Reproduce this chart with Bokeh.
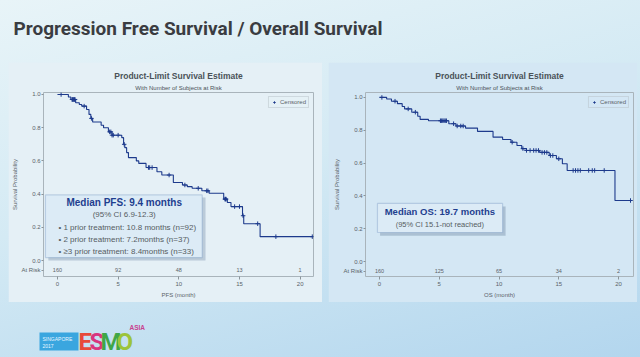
import numpy as np
from bokeh.plotting import figure
from bokeh.models import (Range1d, FixedTicker, Title, Label, BoxAnnotation, Legend,
                          LegendItem, PrintfTickFormatter, Spacer)
from bokeh.layouts import column, row
from bokeh.embed import file_html
from bokeh.resources import INLINE
from bokeh.core.properties import value

SLIDE_TITLE = "Progression Free Survival / Overall Survival"
PANEL_TITLE = "Product-Limit Survival Estimate"
PANEL_SUBTITLE = "With Number of Subjects at Risk"

# ---- PFS Kaplan-Meier (time in months, survival after step) ----
pfs_times = [0, 0.9, 1.1, 1.5, 1.8, 2.0, 2.4, 2.6, 2.75, 2.9, 3.6, 3.8, 4.2, 4.5, 5.3, 5.45,
             5.55, 5.7, 5.85, 6.5, 6.7, 7.3, 8.2, 8.6, 9.55, 10.3, 10.7, 11.1, 11.9, 12.5,
             13.7, 14.0, 14.3, 15.25, 15.35, 16.7, 21.0]
pfs_surv = [1.0, 0.985, 0.97, 0.95, 0.94, 0.93, 0.91, 0.88, 0.856, 0.834, 0.815, 0.80, 0.775,
            0.755, 0.74, 0.70, 0.68, 0.65, 0.62, 0.60, 0.585, 0.56, 0.535, 0.515, 0.47, 0.455,
            0.445, 0.435, 0.42, 0.405, 0.37, 0.35, 0.325, 0.27, 0.222, 0.144, 0.144]
pfs_censor = [0.3, 1.2, 1.25, 1.3, 1.35, 1.4, 1.45, 2.2, 2.8, 4.3, 4.4, 4.5, 4.6, 5.0, 5.5,
              7.5, 7.6, 7.8, 9.2, 10.5, 11.6, 12.3, 12.4, 13.8, 13.85, 13.9, 14.6, 15.0,
              15.3, 16.5, 18.0, 21.0]
pfs_risk_times = [0, 5, 10, 15, 20]
pfs_at_risk = ["160", "92", "48", "13", "1"]

# ---- OS Kaplan-Meier ----
os_times = [0, 0.6, 1.0, 1.5, 1.9, 2.1, 2.7, 3.2, 3.4, 4.1, 5.8, 6.4, 7.2, 8.2, 9.5, 10.3,
            11.0, 11.5, 11.9, 12.3, 13.4, 14.2, 14.8, 15.3, 15.7, 19.7, 21.0]
os_surv = [1.0, 0.99, 0.977, 0.962, 0.945, 0.93, 0.91, 0.885, 0.866, 0.858, 0.84, 0.826,
           0.813, 0.793, 0.758, 0.744, 0.727, 0.707, 0.688, 0.677, 0.665, 0.646, 0.626,
           0.596, 0.555, 0.372, 0.372]
os_censor = [0.2, 1.3, 2.4, 3.0, 5.1, 5.2, 5.3, 5.4, 5.5, 5.6, 6.2, 6.5, 6.8, 7.0, 11.1,
             12.0, 12.3, 12.6, 12.9, 13.1, 13.3, 13.6, 13.8, 14.0, 14.3, 14.5, 15.0, 16.2,
             16.4, 16.6, 16.8, 17.5, 17.8, 18.0, 18.8, 21.0]
os_risk_times = [0, 5, 10, 15, 20]
os_at_risk = ["160", "125", "65", "34", "2"]

x_ticks = [0, 5, 10, 15, 20]
y_ticks = [0.0, 0.2, 0.4, 0.6, 0.8, 1.0]
RISK_ROW = -0.058

pfs_box_lines = ["Median PFS: 9.4 months", "(95% CI 6.9-12.3)",
                 "\u2022 1 prior treatment: 10.8 months (n=92)",
                 "\u2022 2 prior treatment: 7.2months (n=37)",
                 "\u2022 \u22653 prior treatment: 8.4months (n=33)"]
os_box_lines = ["Median OS: 19.7 months", "(95% CI 15.1-not reached)"]

FONT = "Liberation Sans"
CURVE = "#1d3a8c"
TXT = "#5a6268"


def km_panel(width, height, borders, xr, yr, times, surv, censor, risk_t, risk_n,
             xlabel, panel_color):
    p = figure(width=width, height=height, output_backend="svg", toolbar_location=None,
               x_range=Range1d(*xr), y_range=Range1d(*yr),
               min_border_left=borders[0], min_border_right=borders[1],
               min_border_top=borders[2], min_border_bottom=borders[3])
    p.border_fill_color = panel_color
    p.background_fill_color = panel_color
    p.outline_line_color = "#a9b4bb"
    p.grid.visible = False
    for ax in (p.xaxis[0], p.yaxis[0]):
        ax.axis_line_color = None
        ax.major_tick_line_color = "#8a949a"
        ax.major_tick_out = 3
        ax.major_tick_in = 0
        ax.minor_tick_line_color = None
        ax.major_label_text_font = FONT
        ax.major_label_text_font_size = "6px"
        ax.major_label_text_color = TXT
        ax.axis_label_text_font = FONT
        ax.axis_label_text_font_size = "6px"
        ax.axis_label_text_font_style = "normal"
        ax.axis_label_text_color = TXT
        ax.major_label_standoff = 2
        ax.axis_label_standoff = 3
    p.xaxis.ticker = FixedTicker(ticks=x_ticks)
    p.yaxis.ticker = FixedTicker(ticks=[RISK_ROW] + y_ticks)
    p.yaxis.formatter = PrintfTickFormatter(format="%.1f")
    p.yaxis.major_label_overrides = {RISK_ROW: "At Risk"}
    p.yaxis.major_label_standoff = 1
    p.yaxis.major_tick_out = 2
    p.xaxis.axis_label = xlabel
    p.yaxis.axis_label = "Survival Probability"
    p.yaxis.axis_label_standoff = 0

    p.add_layout(Title(text=PANEL_SUBTITLE, align="center", text_font=FONT,
                       text_font_size="6px", text_font_style="normal",
                       text_color="#4a5258", standoff=3), "above")
    p.add_layout(Title(text=PANEL_TITLE, align="center", text_font=FONT,
                       text_font_size="8.5px", text_font_style="bold",
                       text_color="#4a5258", standoff=1), "above")

    p.step(times, surv, mode="after", line_color=CURVE, line_width=1.1)
    t = np.asarray(times)
    s = np.asarray(surv)
    c = np.asarray(censor)
    idx = np.searchsorted(t, c, side="right") - 1
    cr = p.scatter(c, s[idx], marker="cross", size=4.5, line_color=CURVE, line_width=1)

    leg = Legend(items=[LegendItem(label="Censored", renderers=[cr])], location="top_right",
                 label_text_font=FONT, label_text_font_size="6px", label_text_color=TXT,
                 glyph_width=6, glyph_height=6, label_height=6, padding=2, spacing=0,
                 margin=4, border_line_color="#b8c2c8", background_fill_color=panel_color,
                 label_standoff=3)
    p.add_layout(leg)

    risk_y = [RISK_ROW] * len(risk_t)
    p.text(risk_t, risk_y, text=risk_n, text_font=value(FONT), text_font_size="5.5px",
           text_color=TXT, text_align="center", text_baseline="middle")
    return p


left = km_panel(314, 240, (35, 9, 30, 25), (-1.15, 21.1), (-0.096, 1.012),
                pfs_times, pfs_surv, pfs_censor, pfs_risk_times, pfs_at_risk,
                "PFS (month)", "#e5f0f6")
right = km_panel(309, 240, (37, 4, 30, 26), (-1.17, 21.25), (-0.091, 1.03),
                 os_times, os_surv, os_censor, os_risk_times, os_at_risk,
                 "OS (month)", "#d4e7f4")

# annotation boxes
BOX_FILL = "#dcebf6"
BOX_LINE = "#5f86b6"
TITLE_BLUE = "#1f3f8f"

left.add_layout(BoxAnnotation(left=-0.75, right=12.2, top=0.38, bottom=0.0,
                              fill_color="#9fb3c6", fill_alpha=0.6, line_color=None))
left.add_layout(BoxAnnotation(left=-0.99, right=11.93, top=0.395, bottom=0.018,
                              fill_color=BOX_FILL, fill_alpha=1, line_color=BOX_LINE,
                              line_width=1.2))
ly = [0.347, 0.275, 0.198, 0.126, 0.054]
left.add_layout(Label(x=5.5, y=ly[0], text=pfs_box_lines[0], text_font=FONT,
                      text_font_size="10px", text_font_style="bold", text_color=TITLE_BLUE,
                      text_align="center", text_baseline="middle"))
left.add_layout(Label(x=5.5, y=ly[1], text=pfs_box_lines[1], text_font=FONT,
                      text_font_size="8px", text_color="#555c62",
                      text_align="center", text_baseline="middle"))
for k in range(3):
    left.add_layout(Label(x=0.08, y=ly[2 + k], text=pfs_box_lines[2 + k], text_font=FONT,
                          text_font_size="8px", text_color="#555c62",
                          text_align="left", text_baseline="middle"))

right.add_layout(BoxAnnotation(left=0.05, right=10.55, top=0.335, bottom=0.157,
                               fill_color="#8fa6bc", fill_alpha=0.6, line_color=None))
right.add_layout(BoxAnnotation(left=-0.17, right=10.3, top=0.354, bottom=0.177,
                               fill_color=BOX_FILL, fill_alpha=1, line_color=BOX_LINE,
                               line_width=1.2))
right.add_layout(Label(x=5.05, y=0.305, text=os_box_lines[0], text_font=FONT,
                       text_font_size="9.5px", text_font_style="bold", text_color=TITLE_BLUE,
                       text_align="center", text_baseline="middle"))
right.add_layout(Label(x=5.05, y=0.226, text=os_box_lines[1], text_font=FONT,
                       text_font_size="7.5px", text_color="#555c62",
                       text_align="center", text_baseline="middle"))

# slide title
top = figure(width=640, height=62, output_backend="svg", toolbar_location=None,
             x_range=Range1d(0, 640), y_range=Range1d(62, 0), min_border=0)
top.axis.visible = False
top.grid.visible = False
top.outline_line_color = None
top.background_fill_alpha = 0
top.border_fill_alpha = 0
top.text([13], [28], text=[SLIDE_TITLE], text_font=value("Roboto"),
         text_font_size="19px", text_font_style="bold", text_color="#3a3c41",
         text_baseline="middle")

# footer with logo
foot = figure(width=640, height=55, output_backend="svg", toolbar_location=None,
              x_range=Range1d(0, 640), y_range=Range1d(55, 0), min_border=0)
foot.axis.visible = False
foot.grid.visible = False
foot.outline_line_color = None
foot.background_fill_alpha = 0
foot.border_fill_alpha = 0
foot.quad(left=[39], right=[78], top=[30], bottom=[48], fill_color="#3aa6df", line_color=None)
foot.text([42, 42], [36, 43], text=["SINGAPORE", "2017"], text_font=value(FONT),
          text_font_size="5px", text_color="#e8f6ff", text_baseline="middle")
logo_letters = ["E", "S", "M", "O"]
logo_x = [78, 89, 100, 116]
logo_colors = ["#e8493a", "#d8357f", "#3fa648", "#9cc43a"]
foot.text(logo_x, [39.5] * 4, text=logo_letters, text_font=value("Roboto"),
          text_font_size="24px", text_font_style="bold", text_color=logo_colors,
          text_baseline="middle")
foot.text([129], [25], text=["ASIA"], text_font=value(FONT), text_font_size="6.5px",
          text_font_style="bold", text_color="#c8418f", text_baseline="middle")

panels = row(Spacer(width=8, height=240), left, right, spacing=0)
left.margin = (0, 6, 0, 0)
page = column(top, panels, foot, spacing=0,
              styles={"background": "linear-gradient(165deg, #e8f4f8 0%, #d4eaf4 45%, #b3d6ee 100%)"})

open("out.html", "w").write(file_html(page, INLINE))
